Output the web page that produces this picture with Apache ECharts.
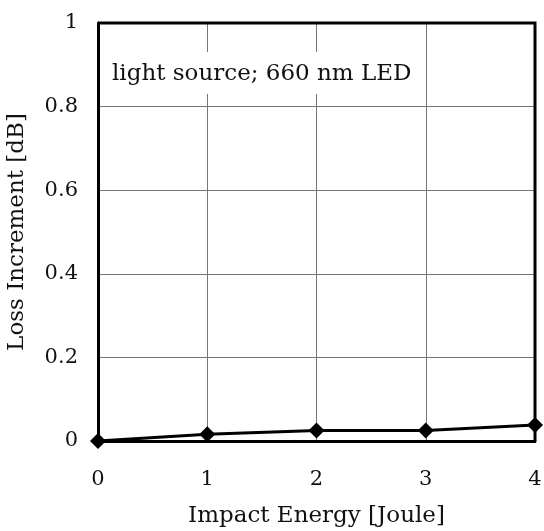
<!DOCTYPE html>
<html><head><meta charset="utf-8">
<script src="https://cdn.jsdelivr.net/npm/echarts@6/dist/echarts.min.js"></script>
<style>html,body{margin:0;padding:0;background:#fff}#c{width:544px;height:531px}</style>
</head><body><div id="c"></div>
<script>
const impactEnergy = [0, 1, 2, 3, 4];
const lossIncrement = [0, 0.016, 0.025, 0.025, 0.038];
const xTicks = [0, 1, 2, 3, 4];
const yTicks = [0, 0.2, 0.4, 0.6, 0.8, 1];
const annotation = 'light source; 660 nm LED';
const xTitle = 'Impact Energy [Joule]';
const yTitle = 'Loss Increment [dB]';
const FONT = 'DejaVu Serif';
const chart = echarts.init(document.getElementById('c'));
chart.setOption({
  animation: false,
  backgroundColor: '#fff',
  grid: {left: 98, right: 9, top: 23, bottom: 90, containLabel: false, outerBoundsMode: 'none'},
  xAxis: {
    type: 'value', min: 0, max: 4, interval: 1,
    name: xTitle, nameLocation: 'middle', nameGap: 64,
    nameTextStyle: {fontFamily: FONT, fontSize: 23, color: '#111'},
    axisLine: {show: true, onZero: false, lineStyle: {color: '#000', width: 3}},
    axisTick: {show: false},
    axisLabel: {fontFamily: FONT, fontSize: 21, color: '#111', margin: 28,
      formatter: v => xTicks.includes(v) ? String(v) : ''},
    splitLine: {show: true, lineStyle: {color: '#777', width: 1}}
  },
  yAxis: {
    type: 'value', min: 0, max: 1, interval: 0.2,
    name: yTitle, nameLocation: 'middle', nameGap: 69,
    nameTextStyle: {fontFamily: FONT, fontSize: 23, color: '#111'},
    axisLine: {show: true, lineStyle: {color: '#000', width: 3}},
    axisTick: {show: false},
    axisLabel: {fontFamily: FONT, fontSize: 21, color: '#111', margin: 20,
      formatter: v => { const t = yTicks.find(x => Math.abs(x - v) < 1e-9); return t === undefined ? '' : String(t); }},
    splitLine: {show: true, lineStyle: {color: '#777', width: 1}}
  },
  series: [
    {
      type: 'line', data: impactEnergy.map((x, i) => [x, lossIncrement[i]]),
      symbol: 'diamond', symbolSize: 16, showSymbol: true, clip: false,
      lineStyle: {color: '#000', width: 3}, itemStyle: {color: '#000'},
      z: 5
    }
  ],
  graphic: [
    {type: 'polyline', shape: {points: [[98, 23], [535, 23], [535, 441]]}, style: {fill: null, stroke: '#000', lineWidth: 3}, z: 10, silent: true},
    {type: 'rect', shape: {x: 101, y: 52, width: 319, height: 42}, style: {fill: '#fff'}, z: 3, silent: true},
    {type: 'text', x: 112, y: 74, style: {text: annotation, font: '23px "DejaVu Serif"', fill: '#111', textVerticalAlign: 'middle', verticalAlign: 'middle'}, z: 4, silent: true}
  ]
});
</script></body></html>
